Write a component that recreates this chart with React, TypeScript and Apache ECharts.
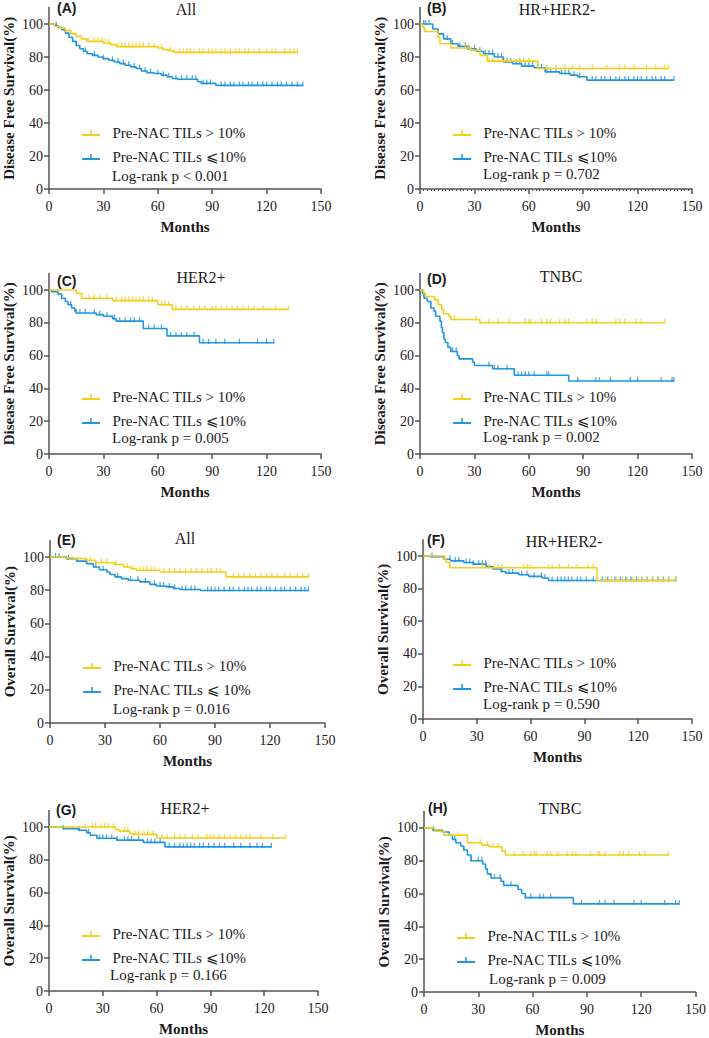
import React, { useEffect, useRef } from 'react';
import * as echarts from 'echarts';

const YELLOW = '#F4CF1A';
const BLUE = '#2196DF';
const AX = '#555555';
const TXT = '#1a1a1a';
const SERIF = 'Liberation Serif';
const SANS = 'Liberation Sans';

const HI = 'Pre-NAC TILs > 10%';
const LO = 'Pre-NAC TILs ⩽10%';
const LO_E = 'Pre-NAC TILs ⩽ 10%';

const xTicks = [0, 30, 60, 90, 120, 150];
const yTicks = [0, 20, 40, 60, 80, 100];

// (A) DFS All
const aHiT = [0, 3, 6, 9, 12, 15, 18, 21, 30, 34, 37, 60, 63, 66, 69];
const aHiS = [100, 98.5, 97.5, 96, 94, 92.5, 91, 89.5, 88.5, 87.5, 86.3, 85.5, 84.5, 83.8, 82.8];
const aHiC = [22, 25, 27, 29, 31, 33, 38, 40, 42, 44, 46, 48, 50, 52, 55, 58, 62, 67, 72, 74, 76, 78, 80, 83, 85, 88, 90, 92, 95, 97, 100, 103, 105, 108, 110, 113, 116, 120, 123, 125, 130, 133, 135, 137];
const aLoT = [0, 3, 5, 7, 9, 11, 13, 15, 17, 19, 21, 24, 27, 30, 33, 36, 39, 42, 45, 48, 51, 54, 58, 62, 65, 68, 71, 82, 84, 92];
const aLoS = [100, 99, 98, 96.5, 94.5, 92, 89.5, 87, 85, 83.5, 82, 81, 80, 79, 78, 77, 76, 75, 74, 73, 71.5, 70.5, 70, 69, 68, 67, 66.5, 65, 64, 62.8];
const aLoC = [4, 20, 25, 30, 35, 38, 41, 44, 47, 50, 53, 56, 60, 63, 66, 70, 73, 76, 79, 81, 85, 87, 89, 95, 97, 100, 102, 105, 107, 110, 112, 115, 118, 120, 123, 126, 128, 131, 134, 137, 140];

// (B) DFS HR+HER2-
const bHiT = [0, 1.5, 2.5, 10, 11, 17, 28, 33, 37, 65];
const bHiS = [100, 98, 95.5, 92, 88, 85.5, 84, 81, 77.5, 73];
const bHiC = [25, 28, 38, 40, 43, 45, 48, 55, 57, 60, 70, 75, 80, 84, 88, 95, 103, 110, 113, 118, 125, 130, 135, 137];
const bLoT = [0, 7, 10, 13, 17, 21, 26, 31, 35, 41, 46, 51, 56, 63, 69, 77, 83, 87, 92];
const bLoS = [100, 97, 94, 91, 88, 86.5, 85, 83.5, 82, 80, 77, 76, 74.5, 73.5, 71, 70, 69, 68, 66];
const bLoC = [2, 3, 5, 15, 18, 22, 25, 27, 30, 33, 36, 38, 40, 43, 45, 48, 50, 53, 55, 58, 60, 62, 65, 67, 70, 72, 75, 78, 80, 82, 85, 88, 95, 97, 100, 102, 105, 108, 110, 113, 115, 118, 120, 122, 125, 128, 130, 133, 135, 140];

// (C) DFS HER2+
const cHiT = [0, 15, 18, 35, 60, 68];
const cHiS = [100, 98, 95, 93.5, 91, 88.2];
const cHiC = [22, 25, 28, 32, 37, 40, 42, 44, 46, 48, 50, 52, 55, 57, 62, 64, 66, 70, 73, 76, 80, 83, 86, 90, 92, 95, 98, 101, 104, 107, 110, 113, 118, 125, 132];
const cLoT = [0, 1.5, 5, 7, 9, 10.5, 12.5, 14.3, 15, 26, 30, 35, 37, 52, 65, 83];
const cLoS = [100, 99, 97.5, 95, 93, 91, 89, 87, 86, 85, 84, 82.5, 81, 76.5, 72, 67.8];
const cLoC = [12, 15, 17, 20, 25, 28, 32, 36, 39, 42, 45, 47, 50, 55, 58, 62, 67, 70, 73, 76, 80, 85, 88, 92, 97, 105, 115, 120, 124];

// (D) DFS TNBC
const dHiT = [0, 2, 3, 8, 10, 12, 13, 16, 17, 33];
const dHiS = [100, 98, 96, 94, 91, 88, 85.5, 84, 82, 80];
const dHiC = [19, 31, 38, 43, 49, 58, 60, 61, 67, 70, 72, 77, 80, 82, 92, 95, 97, 108, 110, 113, 119, 122, 135];
const dLoT = [0, 1.3, 2.2, 4, 6, 7.7, 8.6, 11, 11.8, 12.4, 13.2, 14, 15.4, 17, 20.6, 21.5, 29, 30, 40, 52, 82];
const dLoS = [100, 98, 95, 93, 89, 87, 84, 81, 77, 74, 70, 68, 65, 62.5, 60, 58, 56, 54, 52, 48, 44.5];
const dLoC = [18, 20, 38, 41, 43, 48, 54, 56, 58, 60, 63, 70, 71, 87, 97, 99, 105, 116, 120, 133, 139, 140];

// (E) OS All
const eHiT = [0, 8, 13, 20, 25, 35, 40, 44, 47, 60, 96];
const eHiS = [100, 99.5, 99, 98, 96.5, 95.5, 94, 93, 92, 91, 88];
const eHiC = [22, 28, 31, 36, 42, 45, 49, 51, 53, 55, 57, 62, 65, 68, 71, 74, 77, 80, 83, 86, 88, 91, 93, 100, 103, 106, 109, 112, 115, 118, 121, 124, 128, 131, 135, 138, 141];
const eLoT = [0, 9, 14.5, 20, 23.6, 27, 31, 32.7, 35.5, 39, 42.7, 49, 54.5, 58, 63.6, 67.3, 71, 82];
const eLoS = [100, 99, 97.5, 96, 94, 92.3, 91, 89.5, 88, 87, 86, 85, 83.5, 82.5, 82, 81, 80.4, 79.8];
const eLoC = [3, 5, 10, 25, 29, 37, 44, 48, 52, 57, 60, 62, 65, 68, 72, 74, 77, 79, 86, 88, 90, 92, 95, 98, 100, 103, 106, 108, 110, 113, 115, 118, 120, 123, 126, 128, 131, 134, 137, 139, 141];

// (F) OS HR+HER2-
const fHiT = [0, 12, 13, 15, 97];
const fHiS = [100, 98, 96, 92.8, 85];
const fHiC = [33, 37, 40, 42, 44, 56, 58, 60, 70, 72, 76, 81, 86, 92, 95, 102, 105, 108, 111, 114, 117, 120, 122, 125, 128, 131, 134, 137, 141];
const fLoT = [0, 4, 11.7, 15.4, 22.7, 28, 35.3, 39, 43.5, 46, 53.5, 59, 66.4, 70];
const fLoS = [100, 99.5, 98, 97, 96, 95, 93.5, 92, 90.5, 89.5, 88.5, 87.5, 86.5, 85];
const fLoC = [5, 15, 18, 20, 24, 26, 28, 31, 33, 35, 44, 48, 50, 55, 58, 62, 66, 68, 72, 75, 77, 79, 81, 83, 86, 88, 91, 95, 100, 103, 107, 110, 113, 116, 119, 122, 125, 128, 131, 134, 137, 141];

// (G) OS HER2+
const gHiT = [0, 37, 39, 45, 47, 60];
const gHiS = [100, 98.5, 97.5, 96, 95.5, 93.3];
const gHiC = [20, 24, 26, 29, 31, 33, 36, 42, 44, 48, 50, 53, 55, 58, 63, 66, 70, 73, 76, 80, 83, 88, 90, 92, 95, 98, 101, 104, 107, 110, 112, 118, 125, 132];
const gLoT = [0, 8, 16.4, 21, 23, 26.7, 37.8, 52.6, 64.7];
const gLoS = [100, 99, 98, 96.5, 95, 93.1, 92, 90.6, 87.9];
const gLoC = [8, 17, 22, 28, 30, 32, 35, 38, 42, 44, 46, 50, 55, 57, 59, 62, 67, 70, 73, 75, 77, 79, 81, 84, 86, 89, 92, 95, 98, 103, 107, 112, 116, 119, 124];

// (H) OS TNBC
const hHiT = [0, 6, 11, 24, 32, 36, 43, 45];
const hHiS = [100, 98, 95.6, 91, 89.5, 88.5, 86, 83.5];
const hHiC = [19, 31, 35, 38, 41, 43, 50, 55, 59, 61, 62, 68, 70, 74, 79, 82, 84, 92, 96, 97, 100, 108, 110, 113, 119, 122, 135];
const hLoT = [0, 5, 10.3, 14, 15.7, 17.6, 20.3, 22, 24, 26, 32.4, 34, 35, 37, 42.5, 44, 52, 54, 56, 82.5];
const hLoS = [100, 98.5, 97.5, 95.5, 93, 91, 89, 86.5, 83.5, 80, 78, 75, 72, 69.5, 67.5, 65, 62.5, 60, 57.5, 53.7];
const hLoC = [5, 17, 26, 30, 32, 39, 42, 48, 56, 59, 64, 66, 70, 87, 97, 100, 105, 116, 120, 133, 139, 141];

const DFS = 'Disease Free Survival(%)';
const OS = 'Overall Survival(%)';

const panels = [
  { letter: '(A)', title: 'All', yName: DFS, lo: LO, p: 'Log-rank p < 0.001', hiD: [aHiT, aHiS, aHiC], loD: [aLoT, aLoS, aLoC],
    grid: [49, 7.5, 272, 181.5], letterPos: [57, 8], titlePos: [186, 9], legendPos: [82, 133], pPos: [112, 176], minor: false },
  { letter: '(B)', title: 'HR+HER2-', yName: DFS, lo: LO, p: 'Log-rank p = 0.702', hiD: [bHiT, bHiS, bHiC], loD: [bLoT, bLoS, bLoC],
    grid: [420, 7.5, 272, 181.5], letterPos: [427, 8], titlePos: [557, 9], legendPos: [453, 133], pPos: [483, 174], minor: true },
  { letter: '(C)', title: 'HER2+', yName: DFS, lo: LO, p: 'Log-rank p = 0.005', hiD: [cHiT, cHiS, cHiC], loD: [cLoT, cLoS, cLoC],
    grid: [49, 273.6, 272, 180.4], letterPos: [57, 281], titlePos: [201, 277], legendPos: [82, 397], pPos: [112, 438], minor: false },
  { letter: '(D)', title: 'TNBC', yName: DFS, lo: LO, p: 'Log-rank p = 0.002', hiD: [dHiT, dHiS, dHiC], loD: [dLoT, dLoS, dLoC],
    grid: [420, 273.6, 272, 180.4], letterPos: [427, 279], titlePos: [561, 276], legendPos: [453, 397], pPos: [483, 437], minor: false },
  { letter: '(E)', title: 'All', yName: OS, lo: LO_E, p: 'Log-rank p = 0.016', hiD: [eHiT, eHiS, eHiC], loD: [eLoT, eLoS, eLoC],
    grid: [50, 540.4, 275, 182.6], letterPos: [57, 540], titlePos: [185, 538], legendPos: [83, 666], pPos: [113, 709], minor: false },
  { letter: '(F)', title: 'HR+HER2-', yName: OS, lo: LO, p: 'Log-rank p = 0.590', hiD: [fHiT, fHiS, fHiC], loD: [fLoT, fLoS, fLoC],
    grid: [423, 539.7, 269, 179.3], letterPos: [427, 540], titlePos: [564, 541], legendPos: [453, 663], pPos: [483, 704], minor: false },
  { letter: '(G)', title: 'HER2+', yName: OS, lo: LO, p: 'Log-rank p = 0.166', hiD: [gHiT, gHiS, gHiC], loD: [gLoT, gLoS, gLoC],
    grid: [49, 810.6, 269, 180.4], letterPos: [56, 810], titlePos: [185, 808], legendPos: [82, 934], pPos: [110, 975], minor: false },
  { letter: '(H)', title: 'TNBC', yName: OS, lo: LO, p: 'Log-rank p = 0.009', hiD: [hHiT, hHiS, hHiC], loD: [hLoT, hLoS, hLoC],
    grid: [424, 811.5, 273, 181.5], letterPos: [428, 808], titlePos: [560, 808], legendPos: [457, 936], pPos: [489, 979], minor: false },
];

function stepData(t: number[], s: number[], c: number[]) {
  const pts = t.map((x, i) => [x, s[i]]);
  const last = Math.max(...c);
  if (last > t[t.length - 1]) pts.push([last, s[s.length - 1]]);
  return pts;
}

function censorData(t: number[], s: number[], c: number[]) {
  return c.map((x) => {
    let v = s[0];
    for (let i = 0; i < t.length; i++) if (t[i] <= x) v = s[i];
    return [x, v];
  });
}

const ICON = 'path://M0,4H18V6H0Z M8.2,0H9.8V4H8.2Z';

function buildOption() {
  const series: any[] = [];
  panels.forEach((p, i) => {
    const groups: [string, any[], string][] = [
      [p.lo, p.loD, BLUE],
      [HI, p.hiD, YELLOW],
    ];
    groups.forEach(([name, d, color], k) => {
      series.push({
        type: 'line', name, xAxisIndex: i, yAxisIndex: i, step: 'end',
        data: stepData(d[0], d[1], d[2]), showSymbol: false, symbol: 'none',
        lineStyle: { color, width: 1.6 }, itemStyle: { color }, silent: true, z: 2 + k,
      });
      series.push({
        type: 'scatter', name: name + ' censored ' + i, xAxisIndex: i, yAxisIndex: i,
        data: censorData(d[0], d[1], d[2]), symbol: 'rect', symbolSize: [1.3, 5], symbolOffset: [0, -1.5],
        itemStyle: { color }, silent: true, z: 2 + k,
      });
    });
  });

  return {
    animation: false,
    backgroundColor: '#ffffff',
    grid: panels.map((p) => ({ left: p.grid[0], top: p.grid[1], width: p.grid[2], height: p.grid[3] })),
    xAxis: panels.map((p, i) => ({
      gridIndex: i, type: 'value', min: 0, max: 150, interval: 30,
      name: 'Months', nameLocation: 'middle', nameGap: 30,
      nameTextStyle: { fontFamily: SERIF, fontWeight: 'bold', fontSize: 15, color: TXT },
      axisLine: { show: true, onZero: false, lineStyle: { color: AX, width: 1.5 } },
      axisTick: { show: true, length: 5, lineStyle: { color: AX, width: 1.5 }, customValues: xTicks },
      minorTick: p.minor ? { show: true, splitNumber: 15, length: 2, lineStyle: { color: AX, width: 1 } } : { show: false },
      axisLabel: { fontFamily: SERIF, fontSize: 14, color: TXT, margin: 10, customValues: xTicks },
      splitLine: { show: false },
    })),
    yAxis: panels.map((p, i) => ({
      gridIndex: i, type: 'value', min: 0, max: 110, interval: 10,
      name: p.yName, nameLocation: 'middle', nameGap: 33,
      nameTextStyle: { fontFamily: SERIF, fontWeight: 'bold', fontSize: 15, color: TXT },
      axisLine: { show: true, onZero: false, lineStyle: { color: AX, width: 1.5 } },
      axisTick: { show: true, length: 5, lineStyle: { color: AX, width: 1.5 }, customValues: yTicks },
      axisLabel: { fontFamily: SERIF, fontSize: 14, color: TXT, margin: 6, customValues: yTicks },
      splitLine: { show: false },
    })),
    legend: panels.map((p) => ({
      orient: 'vertical', left: p.legendPos[0], top: p.legendPos[1] - 8, padding: 0,
      itemWidth: 18, itemHeight: 6, itemGap: 8, icon: ICON, selectedMode: false,
      data: [HI, p.lo],
      formatter: '  {name}',
      textStyle: { fontFamily: SERIF, fontSize: 15, color: TXT, lineHeight: 16 },
    })),
    graphic: panels.flatMap((p) => [
      { type: 'text', x: p.letterPos[0], y: p.letterPos[1], silent: true,
        style: { text: p.letter, fontFamily: SANS, fontWeight: 'bold', fontSize: 14, fill: TXT, verticalAlign: 'middle' } },
      { type: 'text', x: p.titlePos[0], y: p.titlePos[1], silent: true,
        style: { text: p.title, fontFamily: SERIF, fontSize: 16, fill: TXT, align: 'center', verticalAlign: 'middle' } },
      { type: 'text', x: p.pPos[0], y: p.pPos[1], silent: true,
        style: { text: p.p, fontFamily: SERIF, fontSize: 15, fill: TXT, verticalAlign: 'middle' } },
    ]),
    series,
  };
}

export default function App() {
  const ref = useRef<HTMLDivElement>(null);
  useEffect(() => {
    if (!ref.current) return;
    const chart = echarts.init(ref.current, undefined, { renderer: 'svg' });
    chart.setOption(buildOption() as any);
    return () => chart.dispose();
  }, []);
  return <div ref={ref} style={{ position: 'absolute', left: 0, top: 0, width: 709, height: 1038, background: '#fff' }} />;
}
